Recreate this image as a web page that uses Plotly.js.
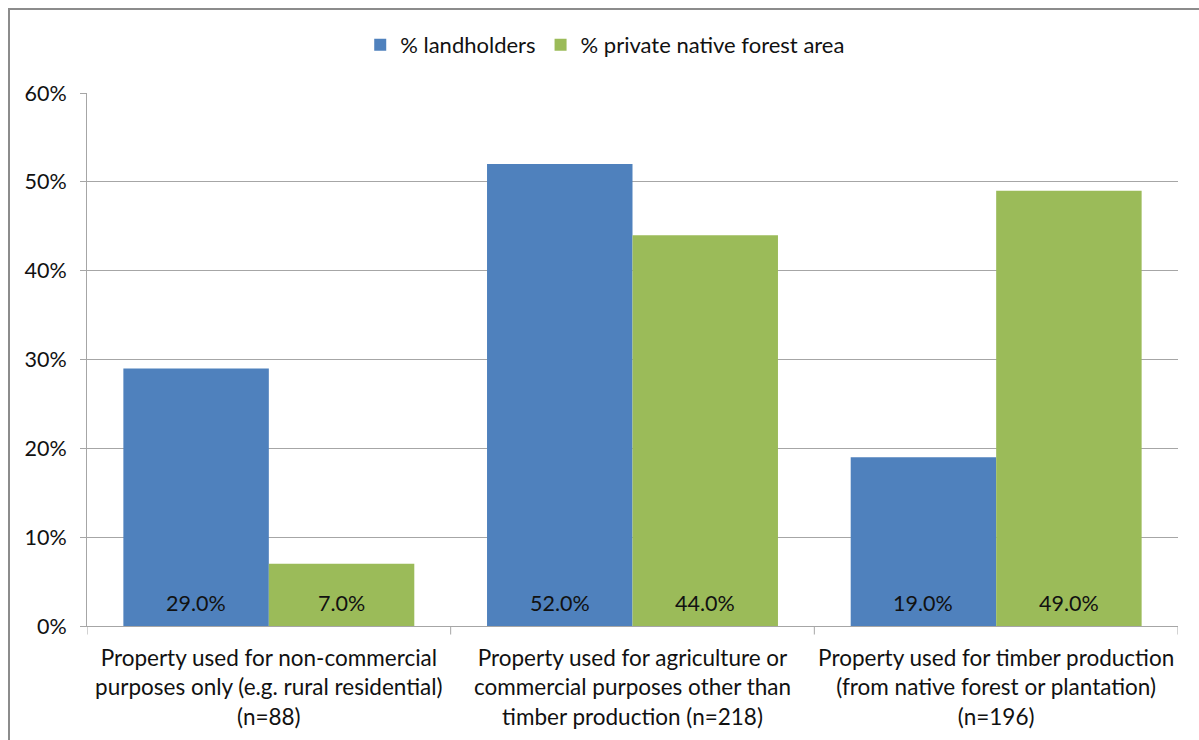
<!DOCTYPE html>
<html>
<head>
<meta charset="utf-8">
<script src="https://cdn.plot.ly/plotly-3.0.1.min.js"></script>
<style>
  html, body { margin: 0; padding: 0; background: #fff; overflow: hidden; }
  #frame { position: absolute; left: 8px; top: 8px; width: 1400px; height: 900px;
           border-left: 2px solid #8c8c8c; border-top: 2px solid #8c8c8c; box-sizing: border-box; }
  #chart { position: absolute; left: 0; top: 0; width: 1199px; height: 740px; }
</style>
</head>
<body>
<div id="frame"></div>
<div id="chart"></div>
<script>
const categories = [
  "Property used for non-commercial<br>purposes only (e.g. rural residential)<br>(n=88)",
  "Property used for agriculture or<br>commercial purposes other than<br>timber production (n=218)",
  "Property used for timber production<br>(from native forest or plantation)<br>(n=196)"
];
const seriesNames = ["% landholders", "% private native forest area"];
const landholders = [0.29, 0.52, 0.19];
const forestArea = [0.07, 0.44, 0.49];
const yTickVals = [0, 0.1, 0.2, 0.3, 0.4, 0.5, 0.6];

const FONT = "Lato, 'Open Sans', sans-serif";
const TXT = "#111111";
const colors = ["#4F81BD", "#9BBB59"];

const traces = [
  { type: "bar", name: seriesNames[0], x: [0, 1, 2], y: landholders,
    marker: { color: colors[0] }, hoverinfo: "none" },
  { type: "bar", name: seriesNames[1], x: [0, 1, 2], y: forestArea,
    marker: { color: colors[1] }, hoverinfo: "none" }
];

const annotations = [];
[landholders, forestArea].forEach((vals, s) => {
  vals.forEach((v, i) => {
    annotations.push({
      xref: "x", yref: "y", x: i + (s === 0 ? -0.2 : 0.2), y: 0,
      text: (v * 100).toFixed(1) + "%", showarrow: false,
      yanchor: "middle", yshift: 23,
      font: { family: FONT, size: 21.5, color: TXT }
    });
  });
});

const layout = {
  width: 1199, height: 740,
  margin: { l: 87, r: 21, t: 93, b: 114 },
  paper_bgcolor: "rgba(0,0,0,0)",
  plot_bgcolor: "rgba(0,0,0,0)",
  barmode: "group", bargap: 0.2, bargroupgap: 0,
  font: { family: FONT, size: 22, color: TXT },
  showlegend: true,
  legend: { orientation: "h", x: 0.475, xanchor: "center", y: 1.09, yanchor: "middle",
            font: { family: FONT, size: 22, color: TXT }, itemclick: false,
            traceorder: "normal", itemwidth: 30 },
  xaxis: {
    type: "linear", range: [-0.5, 2.5],
    tickmode: "array", tickvals: [0, 1, 2], ticktext: categories,
    showgrid: false, zeroline: false,
    showline: true, linecolor: "#a6a6a6", linewidth: 1,
    ticks: "", ticklabelstandoff: 12,
    tickfont: { family: FONT, size: 22.5, color: TXT }
  },
  yaxis: {
    range: [0, 0.6], tickvals: yTickVals, tickformat: ".0%",
    showgrid: true, gridcolor: "#a6a6a6", gridwidth: 1,
    zeroline: false, showline: true, linecolor: "#a6a6a6", linewidth: 1,
    ticks: "outside", ticklen: 6, tickcolor: "#a6a6a6",
    ticklabelstandoff: 9,
    tickfont: { family: FONT, size: 21.5, color: TXT }
  },
  shapes: [0.5, 1.5, 2.5, -0.5].map(b => ({
    type: "line", xref: "x", yref: "paper", x0: b, x1: b, y0: 0, y1: -0.016,
    line: { color: "#a6a6a6", width: 1 }
  })),
  annotations: annotations
};

Plotly.newPlot("chart", traces, layout, { staticPlot: true });
</script>
</body>
</html>
